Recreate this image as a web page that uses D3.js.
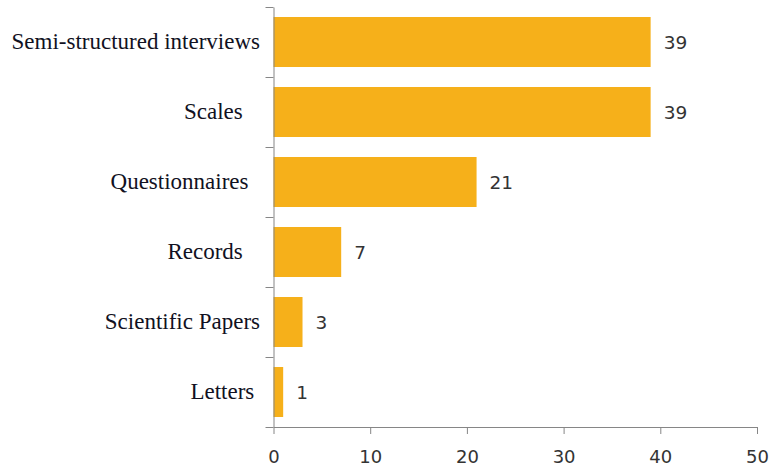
<!DOCTYPE html>
<html>
<head>
<meta charset="utf-8">
<script src="https://cdn.jsdelivr.net/npm/d3@7"></script>
<style>
  body { margin: 0; background: #fff; }
  .axis path, .axis line { stroke: #868686; }
  .cat { white-space: pre; }
</style>
</head>
<body>
<div id="chart"></div>
<script>
// labels keep the trailing spaces the original chart has
var categories = ["Semi-structured interviews", "Scales   ", "Questionnaires  ", "Records   ", "Scientific Papers", "Letters "];
var counts = [39, 39, 21, 7, 3, 1];
var xTicks = [0, 10, 20, 30, 40, 50];

var WIDTH = 775, HEIGHT = 472;
var BAR_COLOR = "#F6B01A";

var data = categories.map(function(c, i){ return {name: c, value: counts[i]}; });

var svg = d3.select("#chart")
    .append("svg")
    .attr("width", WIDTH)
    .attr("height", HEIGHT);

var x = d3.scaleLinear()
    .domain([0, 50])
    .range([273.5, 757]);

var y = d3.scaleBand()
    .domain(categories)
    .range([7, 427])
    .paddingInner(0.2857)
    .paddingOuter(0.1429);

// band boundaries for the y tick marks
var yEdges = d3.scaleLinear()
    .domain([0, categories.length])
    .range([7, 427]);

svg.append("g")
    .attr("class", "bars")
  .selectAll("rect")
    .data(data)
  .enter().append("rect")
    .attr("x", x(0))
    .attr("y", function(d){ return y(d.name); })
    .attr("width", function(d){ return x(d.value) - x(0); })
    .attr("height", y.bandwidth())
    .attr("fill", BAR_COLOR);

// value labels
svg.append("g")
  .selectAll("text")
    .data(data)
  .enter().append("text")
    .attr("x", function(d){ return x(d.value) + 13; })
    .attr("y", function(d){ return y(d.name) + y.bandwidth()/2; })
    .attr("dy", "0.36em")
    .attr("font-family", "DejaVu Sans, Verdana, sans-serif")
    .attr("font-size", 18.5)
    .attr("fill", "#333")
    .text(function(d){ return d.value; });

// category labels
svg.append("g")
  .selectAll("text")
    .data(data)
  .enter().append("text")
    .attr("class", "cat")
    .attr("x", 260)
    .attr("y", function(d){ return y(d.name) + y.bandwidth()/2; })
    .attr("dy", "0.32em")
    .attr("text-anchor", "end")
    .attr("font-family", "Liberation Serif, Times New Roman, serif")
    .attr("font-size", 23)
    .attr("fill", "#111122")
    .text(function(d){ return d.name; });

var yAxis = svg.append("g")
    .attr("class", "axis")
    .attr("transform", "translate(" + x(0) + ",0)")
    .call(d3.axisLeft(yEdges).ticks(categories.length).tickSize(8).tickSizeOuter(0).tickFormat(""));

var xAxis = svg.append("g")
    .attr("class", "axis")
    .attr("transform", "translate(0," + yEdges(categories.length) + ")")
    .call(d3.axisBottom(x).tickValues(xTicks).tickSize(7).tickSizeOuter(0).tickPadding(16));

xAxis.selectAll("text")
    .attr("font-family", "DejaVu Sans, Verdana, sans-serif")
    .attr("font-size", 18)
    .attr("fill", "#333");
</script>
</body>
</html>
